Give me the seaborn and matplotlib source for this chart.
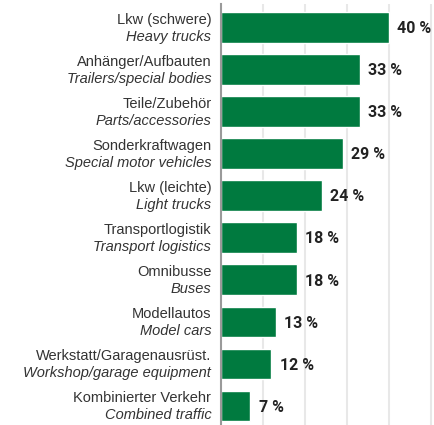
import matplotlib
matplotlib.use("Agg")
import matplotlib.pyplot as plt
import matplotlib.transforms as mtransforms
import pandas as pd
import seaborn as sns

# データ
labels_de = ["Lkw (schwere)", "Anhänger/Aufbauten", "Teile/Zubehör", "Sonderkraftwagen",
             "Lkw (leichte)", "Transportlogistik", "Omnibusse", "Modellautos",
             "Werkstatt/Garagenausrüst.", "Kombinierter Verkehr"]
labels_en = ["Heavy trucks", "Trailers/special bodies", "Parts/accessories",
             "Special motor vehicles", "Light trucks", "Transport logistics", "Buses",
             "Model cars", "Workshop/garage equipment", "Combined traffic"]
values = [40, 33, 33, 29, 24, 18, 18, 13, 12, 7]

df = pd.DataFrame({"cat": labels_de, "val": values})

sns.set_style("white")
plt.rcParams["font.family"] = ["Liberation Sans", "DejaVu Sans"]

fig = plt.figure(figsize=(4.34, 4.25), dpi=100)
ax = fig.add_axes([221 / 434, 0, 213 / 434, 421 / 425])

sns.barplot(data=df, y="cat", x="val", color="#007A3F", saturation=1,
            width=0.72, orient="h", errorbar=None, ax=ax, zorder=3)

ax.set_xlim(0, 50.7)
ax.set_ylim(len(values) - 0.54, -0.56)
ax.set_xticks([10, 20, 30, 40, 50])
ax.grid(True, axis="x", color="#e8e8e8", linewidth=1.5, zorder=0)
ax.set_xlabel("")
ax.set_ylabel("")
ax.set_xticklabels([])
ax.set_yticklabels([])
ax.tick_params(length=0)
for s in ["top", "right", "bottom"]:
    ax.spines[s].set_visible(False)
ax.spines["left"].set_color("#9a9a9a")
ax.spines["left"].set_linewidth(1.5)
ax.spines["left"].set_zorder(4)

# ラベル（ドイツ語・英語）
trans = mtransforms.blended_transform_factory(ax.transAxes, ax.transData)
for i, (de, en) in enumerate(zip(labels_de, labels_en)):
    ax.annotate(de, xy=(0, i), xycoords=trans, xytext=(-7, 5.5), textcoords="offset points",
                ha="right", va="center", fontsize=10.5, color="#333333")
    ax.annotate(en, xy=(0, i), xycoords=trans, xytext=(-7, -7), textcoords="offset points",
                ha="right", va="center", fontsize=10.5, color="#333333", style="italic")

# 値ラベル
for i, v in enumerate(values):
    ax.annotate(f"{v} %", xy=(v, i), xytext=(6, -1), textcoords="offset points",
                ha="left", va="center", fontsize=11.5, fontweight="bold", color="#222222",
                family=["Roboto", "DejaVu Sans"], annotation_clip=False)

fig.savefig("out.png", dpi=100)
